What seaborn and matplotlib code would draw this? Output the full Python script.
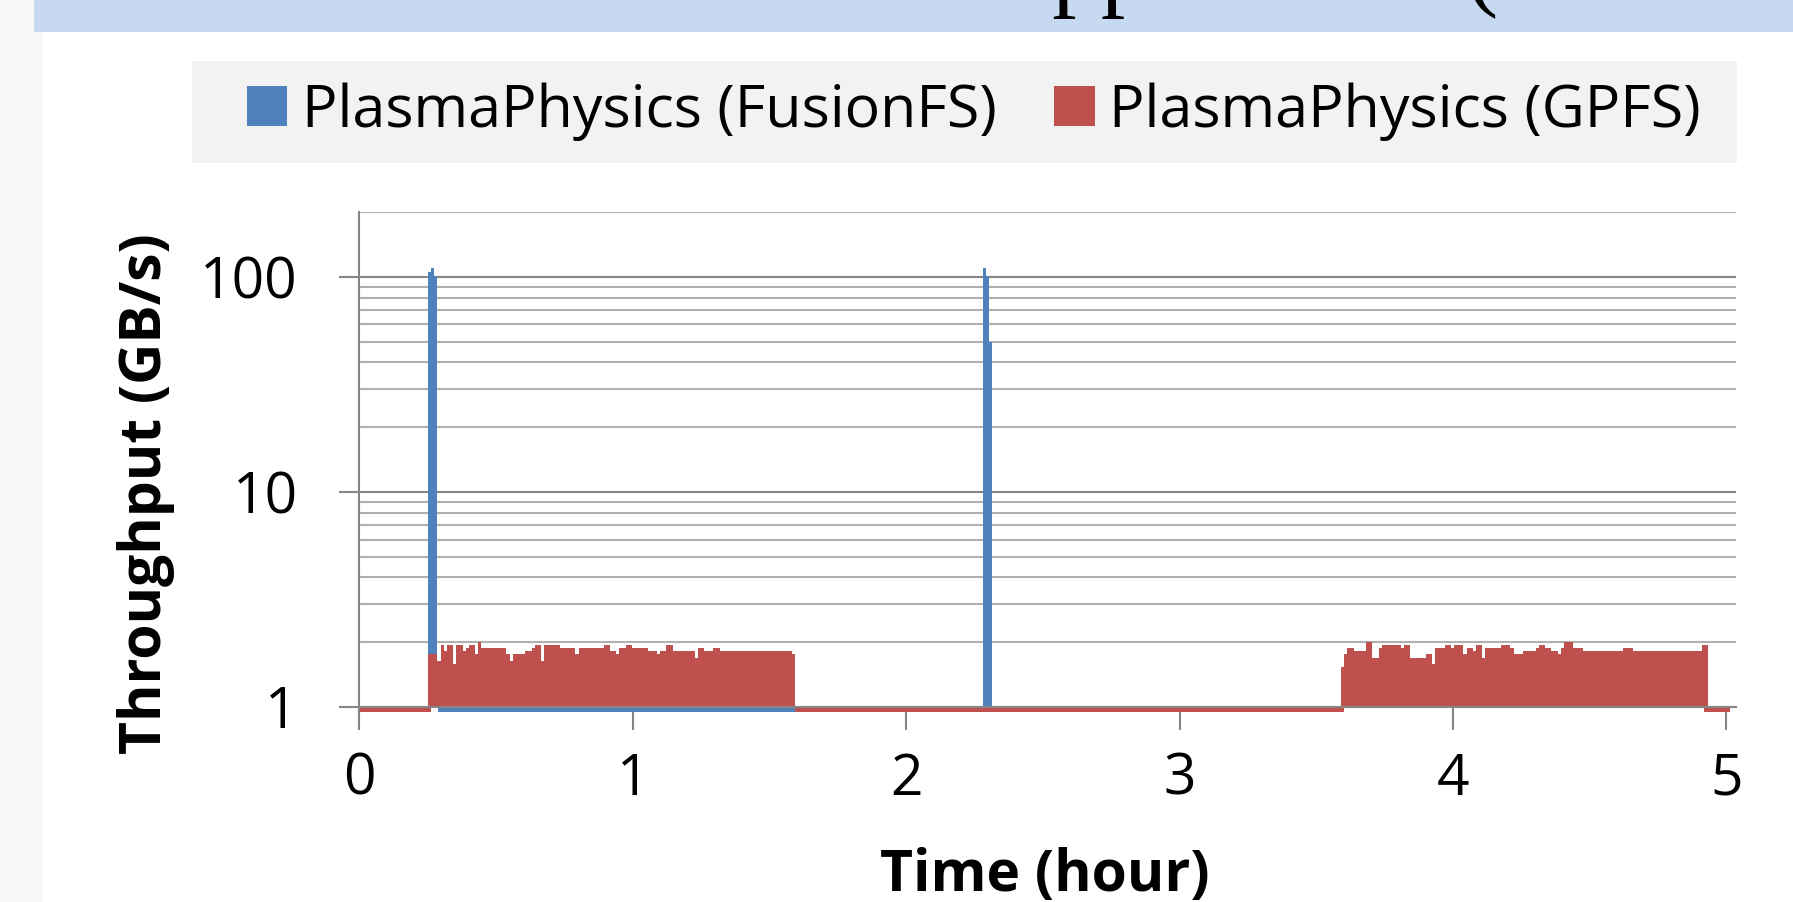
import numpy as np
import pandas as pd
import matplotlib
matplotlib.use("Agg")
import matplotlib.pyplot as plt
from matplotlib.patches import Rectangle, Patch
from matplotlib.ticker import FixedLocator, NullFormatter
import seaborn as sns

# ---------------- data ----------------
series_names = ["PlasmaPhysics (FusionFS)", "PlasmaPhysics (GPFS)"]
sample_hours = 0.011473          # sampling interval of the trace (hours)

fusion_spike_start = [0.2513, 2.2813]
fusion_spike_1 = [105.8, 109.5, 100.7]
fusion_spike_2 = [109.5, 100.7, 49.5]
fusion_idle_start = [0.2879]
fusion_idle_end = [1.5947]

gpfs_burst_start = [0.2513, 3.5907]
gpfs_burst_1 = [
    1.77, 1.77, 1.77, 1.63, 1.94, 1.82, 1.94, 1.94, 1.59, 1.94,
    1.94, 1.82, 1.88, 1.94, 1.94, 1.77, 2.00, 1.88, 1.88, 1.88,
    1.88, 1.88, 1.88, 1.88, 1.88, 1.77, 1.63, 1.77, 1.77, 1.77,
    1.77, 1.82, 1.82, 1.88, 1.94, 1.94, 1.63, 1.94, 1.94, 1.94,
    1.94, 1.94, 1.88, 1.88, 1.88, 1.88, 1.88, 1.77, 1.88, 1.88,
    1.88, 1.88, 1.88, 1.88, 1.88, 1.88, 1.94, 1.94, 1.82, 1.82,
    1.77, 1.88, 1.88, 1.94, 1.94, 1.88, 1.88, 1.88, 1.88, 1.88,
    1.82, 1.82, 1.82, 1.77, 1.82, 1.82, 1.94, 1.94, 1.82, 1.82,
    1.82, 1.82, 1.82, 1.82, 1.82, 1.69, 1.88, 1.88, 1.82, 1.82,
    1.82, 1.88, 1.88, 1.82, 1.82, 1.82, 1.82, 1.82, 1.82, 1.82,
    1.82, 1.82, 1.82, 1.82, 1.82, 1.82, 1.82, 1.82, 1.82, 1.82,
    1.82, 1.82, 1.82, 1.82, 1.82, 1.82, 1.77,
]
gpfs_burst_2 = [
    1.53, 1.77, 1.88, 1.88, 1.82, 1.82, 1.82, 1.82, 2.00, 2.00,
    1.69, 1.69, 1.88, 1.94, 1.94, 1.94, 1.94, 1.94, 1.94, 1.88,
    1.94, 1.94, 1.69, 1.69, 1.69, 1.69, 1.69, 1.77, 1.77, 1.59,
    1.88, 1.88, 1.88, 1.94, 1.94, 1.88, 1.94, 1.94, 1.94, 1.77,
    1.88, 1.88, 1.82, 1.94, 1.94, 1.69, 1.88, 1.88, 1.88, 1.88,
    1.88, 1.94, 1.94, 1.94, 1.88, 1.77, 1.77, 1.77, 1.82, 1.82,
    1.82, 1.82, 1.88, 1.94, 1.94, 1.88, 1.88, 1.82, 1.82, 1.77,
    1.88, 2.00, 2.00, 2.00, 1.88, 1.88, 1.88, 1.82, 1.82, 1.82,
    1.82, 1.82, 1.82, 1.82, 1.82, 1.82, 1.82, 1.82, 1.82, 1.82,
    1.88, 1.88, 1.88, 1.82, 1.82, 1.82, 1.82, 1.82, 1.82, 1.82,
    1.82, 1.82, 1.82, 1.82, 1.82, 1.82, 1.82, 1.82, 1.82, 1.82,
    1.82, 1.82, 1.82, 1.82, 1.82, 1.94, 1.94,
]
gpfs_idle_start = [0.0, 1.5947, 4.9185]
gpfs_idle_end = [0.2634, 3.6017, 5.0135]
idle_value = 0.946               # throughput just below 1 GB/s while idle

x_ticks = [0, 1, 2, 3, 4, 5]
y_ticks = [1, 10, 100]
y_tick_labels = ["1", "10", "100"]
x_label = "Time (hour)"
y_label = "Throughput (GB/s)"
title_text = "Application ("

# ---------------- build a tidy table ----------------
rows = []
for start, vals in zip(fusion_spike_start, [fusion_spike_1, fusion_spike_2]):
    for i, v in enumerate(vals):
        rows.append((round(start + (i + 0.5) * sample_hours, 6), v, series_names[0]))
for start, vals in zip(gpfs_burst_start, [gpfs_burst_1, gpfs_burst_2]):
    for i, v in enumerate(vals):
        rows.append((round(start + (i + 0.5) * sample_hours, 6), v, series_names[1]))
df = pd.DataFrame(rows, columns=["time", "throughput", "series"])
df["height"] = df["throughput"] - 1.0   # Excel-style bars anchored at 1

# ---------------- style ----------------
sns.set_theme(style="white")
plt.rcParams["font.family"] = ["Open Sans", "DejaVu Sans"]
plt.rcParams["text.color"] = "black"

BLUE = "#4f81bd"
RED = "#c0504d"
AXIS_GREY = "#868686"
MINOR_GREY = "#b0b0b0"
W, H, DPI = 1793, 902, 100
FS = 41
FS_LEG = 42.6

fig = plt.figure(figsize=(W / DPI, H / DPI), dpi=DPI, facecolor="white")

# slide decorations
fig.patches.append(Rectangle((0, 0), 43 / W, 1, transform=fig.transFigure,
                             facecolor="#f7f7f7", edgecolor="none", zorder=0))
fig.patches.append(Rectangle((34 / W, 1 - 32 / H), 1, 32 / H, transform=fig.transFigure,
                             facecolor="#c6d9f1", edgecolor="none", zorder=0))
fig.text(982 / W, 1 + 2 / H, title_text, family="Liberation Serif", fontsize=70,
         ha="left", va="baseline", color="black")

# legend background
fig.patches.append(Rectangle((192 / W, 1 - 163 / H), (1737 - 192) / W, (163 - 61) / H,
                             transform=fig.transFigure, facecolor="#f2f2f2",
                             edgecolor="none", zorder=0))

# axes geometry
y_lo, y_hi = 0.93, 201
x_lo, x_hi = 0, 5.035
left, right = 359.3 / W, 1736 / W
top_px, bot_px = 211.6, 713.6
ax = fig.add_axes([left, 1 - bot_px / H, right - left, (bot_px - top_px) / H])
ax.set_facecolor("none")

# idle strips (values slightly under 1, drawn downward from 1)
for s, e in zip(fusion_idle_start, fusion_idle_end):
    ax.bar(s, idle_value - 1.0, width=e - s, bottom=1.0, align="edge",
           color=BLUE, linewidth=0, zorder=2)
for s, e in zip(gpfs_idle_start, gpfs_idle_end):
    ax.bar(s, idle_value - 1.0, width=e - s, bottom=1.0, align="edge",
           color=RED, linewidth=0, zorder=2)

sns.barplot(data=df, x="time", y="height", hue="series", hue_order=series_names,
            palette=[BLUE, RED], saturation=1, native_scale=True, width=1.0,
            dodge=False, errorbar=None, legend=False, bottom=1.0, linewidth=0,
            ax=ax, zorder=2)

ax.set_yscale("log")
ax.set_ylim(y_lo, y_hi)
ax.set_xlim(x_lo, x_hi)
ax.set_xlabel("")
ax.set_ylabel("")

minor_vals = [m * d for d in (1, 10) for m in range(2, 10)] + [200]
ax.yaxis.set_major_locator(FixedLocator(y_ticks))
ax.yaxis.set_minor_locator(FixedLocator(minor_vals))
ax.yaxis.set_minor_formatter(NullFormatter())
ax.set_yticklabels(y_tick_labels)
ax.xaxis.set_major_locator(FixedLocator(x_ticks))
ax.set_xticklabels([str(t) for t in x_ticks])

lw = 1.5
ax.grid(which="major", axis="y", color=AXIS_GREY, linewidth=lw)
ax.grid(which="minor", axis="y", color=MINOR_GREY, linewidth=lw)
ax.grid(which="both", axis="x", visible=False)
ax.set_axisbelow(True)

for side in ("top", "right"):
    ax.spines[side].set_visible(False)
ax.spines["left"].set_color(AXIS_GREY)
ax.spines["left"].set_linewidth(lw)
ax.spines["bottom"].set_color(AXIS_GREY)
ax.spines["bottom"].set_linewidth(lw)
ax.spines["bottom"].set_position(("data", 1))
ax.spines["bottom"].set_zorder(3)

ax.tick_params(axis="y", which="major", direction="out", length=14.4, width=lw,
               color=AXIS_GREY, pad=30, labelsize=FS, labelcolor="black", left=True)
ax.tick_params(axis="y", which="minor", length=0)
ax.tick_params(axis="x", which="major", direction="out", length=16.5, width=lw,
               color=AXIS_GREY, pad=16, labelsize=FS, labelcolor="black", bottom=True)

fig.text(146 / W, 1 - 493.3 / H, y_label, rotation=90, ha="center", va="center",
         fontsize=FS, fontweight="bold", color="black")
fig.text(1045 / W, 1 - 891 / H, x_label, ha="center", va="baseline",
         fontsize=FS, fontweight="bold", color="black")

handles = [Patch(facecolor=BLUE, edgecolor="none"), Patch(facecolor=RED, edgecolor="none")]
fig.legend(handles=handles, labels=series_names, loc="center left",
           bbox_to_anchor=(247 / W, 1 - 111.5 / H), ncol=2, frameon=False,
           fontsize=FS_LEG, handlelength=0.68, handleheight=0.65, handletextpad=0.25,
           columnspacing=0.97, borderpad=0, borderaxespad=0, labelcolor="black")

fig.savefig("out.png", dpi=DPI, facecolor="white")
